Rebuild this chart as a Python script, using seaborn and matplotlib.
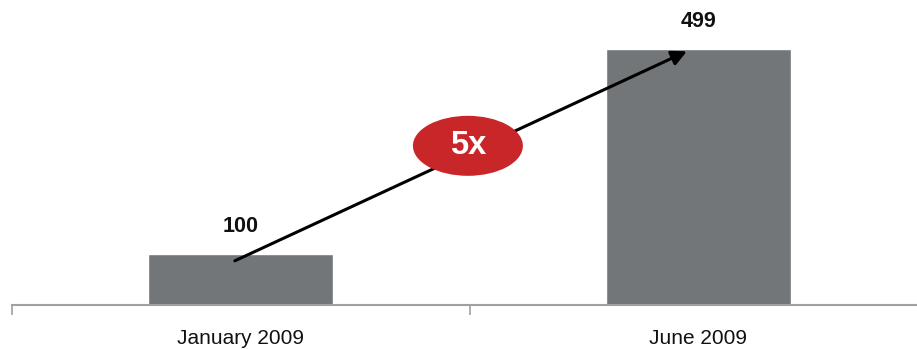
import matplotlib
matplotlib.use("Agg")
import matplotlib.pyplot as plt
from matplotlib.patches import Ellipse
import seaborn as sns
import pandas as pd

periods = ["January 2009", "June 2009"]
values = [100, 499]
growth_label = "5x"

sns.set_style("white")
plt.rcParams["font.family"] = ["Liberation Sans", "DejaVu Sans"]

df = pd.DataFrame({"period": periods, "value": values})

fig = plt.figure(figsize=(9.17, 3.49), dpi=100)
ax = fig.add_axes([12 / 917, 44 / 349, 915 / 917, 305 / 349])

sns.barplot(data=df, x="period", y="value", color="#727679", saturation=1,
            width=0.405, ax=ax)

ax.set_xlim(-0.5, 1.5)
ax.set_ylim(0, 594)
ax.set_xlabel("")
ax.set_ylabel("")
ax.set_yticks([])

for side in ["top", "right", "left"]:
    ax.spines[side].set_visible(False)
ax.spines["bottom"].set_color("#A0A0A0")
ax.spines["bottom"].set_linewidth(1.5)

ax.tick_params(axis="x", which="major", length=0, labelsize=15, pad=17,
               labelcolor="#111111")
ax.set_xticks([-0.5, 0.5, 1.5], minor=True)
ax.tick_params(axis="x", which="minor", bottom=True, length=7, width=1.2,
               color="#A0A0A0")

# value labels above each bar
for i, v in enumerate(values):
    ax.annotate(f"{v}", xy=(i, v), xytext=(0, 12), textcoords="offset points",
                ha="center", va="bottom", fontsize=15.5, fontweight="bold",
                color="#111111")

# growth arrow from the first bar to the second
ax.annotate("", xy=(0.975, values[1] * 0.99), xytext=(-0.013, values[0] * 0.86),
            arrowprops=dict(arrowstyle="-|>,head_length=0.9,head_width=0.45",
                            color="black", lw=2.2, shrinkA=0, shrinkB=0))

# growth badge
cx, cy = 0.4965, 310
ell = Ellipse((cx, cy), width=110 / 457.5, height=60 * 594 / 305,
              facecolor="#C9262A", edgecolor="none", zorder=5)
ax.add_patch(ell)
ax.text(cx, cy, growth_label, ha="center", va="center", fontsize=23.5,
        fontweight="bold", color="white", zorder=6)

fig.savefig("out.png", dpi=100)
